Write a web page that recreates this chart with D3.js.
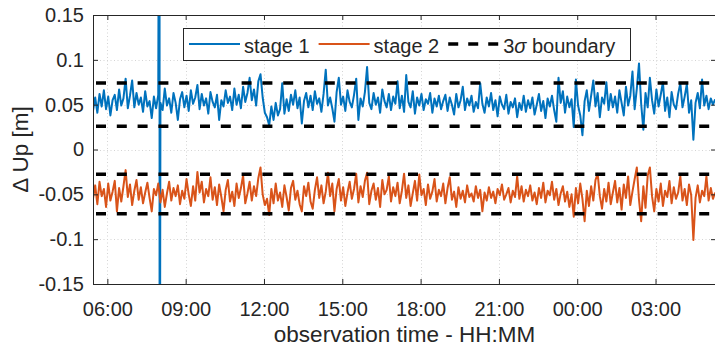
<!DOCTYPE html>
<html><head><meta charset="utf-8">
<script src="https://cdn.jsdelivr.net/npm/d3@7"></script>
<style>
body{margin:0;background:#fff}
svg{display:block}
text{font-family:"Liberation Sans",Arial,Helvetica,sans-serif;fill:#262626}
</style>
</head><body>
<svg id="chart" width="715" height="350"></svg>
<script>
// ---------------- data ----------------
const startTime = "05:27";   // first sample (day 1)
const endTime = "05:19";     // axis end (day 2)
const sampleMinutes = 5;
const seriesNames = ["stage 1", "stage 2"];
const seriesColors = ["#0072BD", "#D95319"];

const stage1 = [
0.043,0.058,0.041,0.062,0.048,0.066,0.045,0.059,0.038,0.055,0.061,0.044,0.067,0.049,0.057,0.079,0.046,0.060,0.077,0.047,
0.063,0.050,0.058,0.042,0.065,0.048,0.054,0.035,0.059,0.046,0.061,0.052,0.044,0.068,0.049,0.057,0.041,0.063,0.052,0.033,
0.056,0.064,0.047,0.060,0.043,0.066,0.051,0.058,0.072,0.045,0.062,0.049,0.057,0.040,0.064,0.053,0.047,0.061,0.033,0.055,
0.048,0.066,0.052,0.059,0.044,0.068,0.050,0.061,0.046,0.070,0.053,0.063,0.080,0.055,0.067,0.049,0.076,0.084,0.058,0.041,
0.036,0.027,0.048,0.033,0.052,0.038,0.045,0.074,0.040,0.056,0.043,0.061,0.050,0.066,0.046,0.058,0.029,0.054,0.063,0.047,
0.060,0.044,0.065,0.051,0.057,0.042,0.062,0.089,0.049,0.058,0.046,0.031,0.064,0.080,0.050,0.059,0.043,0.066,0.053,0.047,
0.061,0.079,0.033,0.057,0.048,0.064,0.092,0.052,0.045,0.063,0.050,0.058,0.041,0.067,0.054,0.047,0.062,0.044,0.059,0.051,
0.076,0.046,0.060,0.042,0.083,0.053,0.047,0.065,0.040,0.058,0.049,0.062,0.044,0.056,0.051,0.063,0.041,0.057,0.048,0.060,
0.045,0.054,0.061,0.043,0.058,0.050,0.039,0.062,0.047,0.055,0.070,0.044,0.057,0.049,0.060,0.042,0.053,0.046,0.074,0.051,
0.041,0.058,0.048,0.063,0.044,0.055,0.037,0.059,0.050,0.045,0.061,0.040,0.053,0.047,0.057,0.036,0.052,0.044,0.060,0.042,
0.055,0.046,0.058,0.039,0.050,0.062,0.043,0.054,0.035,0.057,0.048,0.060,0.044,0.031,0.080,0.052,0.065,0.041,0.059,0.047,
0.056,0.025,0.078,0.049,0.038,0.016,0.054,0.066,0.043,0.060,0.077,0.048,0.063,0.036,0.058,0.051,0.075,0.044,0.062,0.047,
0.059,0.041,0.066,0.052,0.038,0.070,0.049,0.060,0.087,0.045,0.068,0.096,0.051,0.022,0.063,0.047,0.080,0.055,0.040,0.067,
0.048,0.061,0.075,0.043,0.058,0.036,0.064,0.050,0.045,0.062,0.074,0.047,0.059,0.073,0.041,0.055,0.011,0.052,0.063,0.046,
0.078,0.049,0.060,0.045,0.057,0.050,0.056
];

const stage2 = [
-0.055,-0.040,-0.061,-0.036,-0.052,-0.044,-0.064,-0.038,-0.057,-0.047,-0.035,-0.069,-0.043,-0.058,-0.041,-0.023,-0.053,-0.039,-0.062,-0.046,
-0.034,-0.056,-0.042,-0.060,-0.048,-0.037,-0.054,-0.069,-0.044,-0.051,-0.038,-0.059,-0.045,-0.064,-0.049,-0.036,-0.057,-0.043,-0.052,-0.040,
-0.061,-0.046,-0.055,-0.033,-0.050,-0.063,-0.041,-0.057,-0.025,-0.048,-0.036,-0.059,-0.044,-0.052,-0.031,-0.056,-0.042,-0.062,-0.039,-0.053,
-0.069,-0.045,-0.034,-0.058,-0.047,-0.063,-0.038,-0.054,-0.043,-0.029,-0.060,-0.049,-0.036,-0.057,-0.041,-0.052,-0.032,-0.020,-0.050,-0.062,
-0.055,-0.073,-0.044,-0.060,-0.038,-0.057,-0.048,-0.064,-0.040,-0.053,-0.068,-0.043,-0.035,-0.056,-0.046,-0.061,-0.069,-0.041,-0.052,-0.037,
-0.058,-0.066,-0.045,-0.031,-0.054,-0.040,-0.060,-0.047,-0.026,-0.052,-0.038,-0.069,-0.044,-0.033,-0.057,-0.042,-0.063,-0.048,-0.036,-0.055,
-0.044,-0.027,-0.059,-0.041,-0.053,-0.035,-0.026,-0.061,-0.046,-0.038,-0.056,-0.043,-0.064,-0.034,-0.050,-0.045,-0.030,-0.058,-0.042,-0.052,
-0.037,-0.060,-0.046,-0.027,-0.054,-0.040,-0.063,-0.049,-0.035,-0.057,-0.028,-0.051,-0.044,-0.062,-0.039,-0.055,-0.047,-0.033,-0.058,-0.045,
-0.052,-0.038,-0.060,-0.043,-0.031,-0.056,-0.047,-0.064,-0.042,-0.055,-0.046,-0.059,-0.040,-0.053,-0.049,-0.058,-0.041,-0.054,-0.045,-0.069,
-0.048,-0.057,-0.042,-0.054,-0.047,-0.060,-0.044,-0.051,-0.039,-0.056,-0.050,-0.043,-0.059,-0.046,-0.053,-0.030,-0.055,-0.041,-0.058,-0.045,
-0.052,-0.040,-0.057,-0.048,-0.061,-0.043,-0.054,-0.037,-0.059,-0.046,-0.051,-0.036,-0.056,-0.044,-0.062,-0.049,-0.041,-0.058,-0.047,-0.064,
-0.050,-0.075,-0.043,-0.060,-0.038,-0.055,-0.080,-0.046,-0.063,-0.041,-0.057,-0.034,-0.027,-0.052,-0.066,-0.044,-0.058,-0.037,-0.061,-0.048,
-0.035,-0.059,-0.043,-0.067,-0.039,-0.054,-0.030,-0.062,-0.047,-0.033,-0.020,-0.056,-0.080,-0.041,-0.065,-0.029,-0.020,-0.052,-0.069,-0.044,
-0.058,-0.038,-0.063,-0.046,-0.053,-0.035,-0.060,-0.042,-0.055,-0.048,-0.030,-0.057,-0.044,-0.062,-0.039,-0.051,-0.101,-0.054,-0.040,-0.059,
-0.046,-0.052,-0.030,-0.057,-0.043,-0.055,-0.048
];

// single large outlier of stage 1 (goes off the axis both ways)
const stage1Spike = [["08:00", 0.62], ["08:00", -0.58]];

// 3-sigma boundaries (stage 1 upper/lower, stage 2 upper/lower)
const boundaries = [0.0742, 0.0259, -0.0277, -0.0716];

const yTicks = [-0.15, -0.1, -0.05, 0, 0.05, 0.1, 0.15];
const yTickLabels = ["-0.15", "-0.1", "-0.05", "0", "0.05", "0.1", "0.15"];
const xTickLabels = ["06:00", "09:00", "12:00", "15:00", "18:00", "21:00", "00:00", "03:00"];

// ---------------- helpers ----------------
function toDate(hhmm) {
  const [h, m] = hhmm.split(":").map(Number);
  const day = (hhmm >= startTime) ? 1 : 2;
  return new Date(2020, 0, day, h, m);
}
const t0 = toDate(startTime);
function sampleDate(i) { return new Date(t0.getTime() + i * sampleMinutes * 60000); }

const s1 = stage1.map((v, i) => ({ t: sampleDate(i), v }));
stage1Spike.forEach(([hm, v]) => s1.push({ t: toDate(hm), v }));
s1.sort((a, b) => a.t - b.t);
const s2 = stage2.map((v, i) => ({ t: sampleDate(i), v }));

// ---------------- layout ----------------
const L = 93, R = 716, T = 15, B = 284;
const svg = d3.select("#chart");
const x = d3.scaleTime().domain([toDate(startTime), toDate(endTime)]).range([L, R]);
const y = d3.scaleLinear().domain([-0.15, 0.15]).range([B, T]);
const axisColor = "#262626";

svg.append("rect").attr("x", 0).attr("y", 0).attr("width", 715).attr("height", 350).attr("fill", "#fff");

svg.append("defs").append("clipPath").attr("id", "clip")
  .append("rect").attr("x", L).attr("y", T).attr("width", R - L).attr("height", B - T);

// grid
const grid = svg.append("g").attr("stroke", "#d4d4d4").attr("stroke-width", 1).attr("stroke-dasharray", "1,2.5");
grid.selectAll(".gx").data(xTickLabels.map(toDate)).join("line")
  .attr("x1", d => Math.round(x(d)) + 0.5).attr("x2", d => Math.round(x(d)) + 0.5)
  .attr("y1", T).attr("y2", B);
grid.selectAll(".gy").data(yTicks).join("line")
  .attr("x1", L).attr("x2", R)
  .attr("y1", d => Math.round(y(d)) + 0.5).attr("y2", d => Math.round(y(d)) + 0.5);

// series
const line = d3.line().x(d => x(d.t)).y(d => y(d.v));
const plot = svg.append("g").attr("clip-path", "url(#clip)");
[s1, s2].forEach((s, k) => {
  plot.append("path").datum(s).attr("d", line)
    .attr("fill", "none").attr("stroke", seriesColors[k])
    .attr("stroke-width", 2).attr("stroke-linejoin", "round");
});

// boundaries
plot.selectAll(".bnd").data(boundaries).join("line")
  .attr("x1", L).attr("x2", R)
  .attr("y1", d => y(d)).attr("y2", d => y(d))
  .attr("stroke", "#000").attr("stroke-width", 3.5)
  .attr("stroke-dasharray", "10,10.8").attr("stroke-dashoffset", -3);

// axes
function styleAxis(g) {
  g.attr("font-family", null).attr("font-size", null);
  g.selectAll("path.domain").attr("stroke", axisColor).attr("stroke-width", 1);
  g.selectAll(".tick line").attr("stroke", axisColor).attr("stroke-width", 1);
  g.selectAll(".tick text").attr("fill", axisColor).style("font-size", "20px");
}
const xTickDates = xTickLabels.map(toDate);
svg.append("g").attr("transform", `translate(0,${B})`)
  .call(d3.axisBottom(x).tickValues(xTickDates).tickFormat((d, i) => xTickLabels[i])
    .tickSizeInner(-5).tickSizeOuter(0).tickPadding(18))
  .call(styleAxis);
svg.append("g").attr("transform", `translate(0,${T})`)
  .call(d3.axisTop(x).tickValues(xTickDates).tickFormat("")
    .tickSizeInner(-5).tickSizeOuter(0))
  .call(styleAxis);
svg.append("g").attr("transform", `translate(${L},0)`)
  .call(d3.axisLeft(y).tickValues(yTicks).tickFormat((d, i) => yTickLabels[i])
    .tickSizeInner(-5).tickSizeOuter(0).tickPadding(9))
  .call(styleAxis);
svg.append("g").attr("transform", `translate(${R},0)`)
  .call(d3.axisRight(y).tickValues(yTicks).tickFormat("")
    .tickSizeInner(-5).tickSizeOuter(0))
  .call(styleAxis);

// axis labels
svg.append("text").attr("x", (L + R) / 2).attr("y", 342)
  .attr("text-anchor", "middle").style("font-size", "22.5px")
  .text("observation time - HH:MM");
svg.append("text").attr("transform", "rotate(-90)")
  .attr("x", -(T + B) / 2).attr("y", 28)
  .attr("text-anchor", "middle").style("font-size", "22.5px")
  .text("\u0394 Up [m]");

// legend
const lg = svg.append("g");
lg.append("rect").attr("x", 183.5).attr("y", 28.5).attr("width", 447).attr("height", 32)
  .attr("fill", "#fff").attr("stroke", axisColor).attr("stroke-width", 1);
const legendItems = [
  { name: seriesNames[0], color: seriesColors[0], dash: null, w: 1.8 },
  { name: seriesNames[1], color: seriesColors[1], dash: null, w: 1.8 },
  { name: "3σ boundary", color: "#000", dash: "10,10", w: 3.5 }
];
let lx = 189;
const ly = 44;
legendItems.forEach(it => {
  lg.append("line").attr("x1", lx).attr("x2", lx + 51).attr("y1", ly).attr("y2", ly)
    .attr("stroke", it.color).attr("stroke-width", it.w)
    .attr("stroke-dasharray", it.dash);
  const t = lg.append("text").attr("x", lx + 55).attr("y", 53).style("font-size", "20px");
  if (it.name.includes("σ")) {
    t.append("tspan").text("3");
    t.append("tspan").style("font-style", "italic").text("σ");
    t.append("tspan").text(" boundary");
  } else {
    t.text(it.name);
  }
  lx = lx + 55 + t.node().getComputedTextLength() + 9;
});
</script>
</body></html>
